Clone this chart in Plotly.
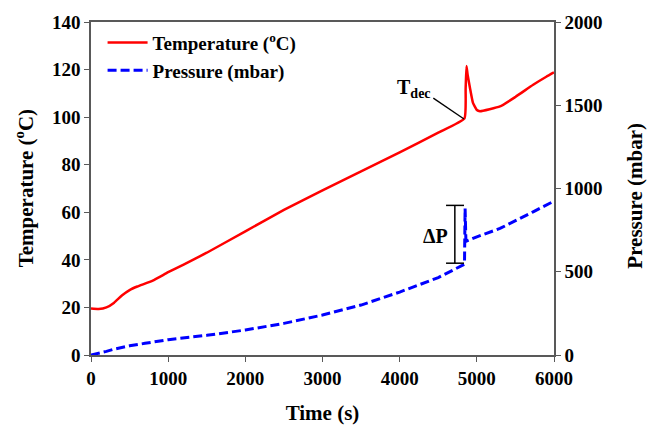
import plotly.graph_objects as go

# Temperature (°C) vs time (s)
temp_t = [0, 100, 200, 300, 400, 500, 600, 800, 1000, 1200, 1500, 2000, 2500, 3000, 3500,
          4000, 4500, 4840, 4855, 4866, 4880, 4910, 4950, 5000, 5040, 5300, 5500, 5730, 5900, 6000]
temp_v = [19.5, 19.3, 20.0, 22.0, 25.0, 27.3, 28.8, 31.3, 34.8, 38.0, 43.0, 52.0, 61.0, 69.2, 77.2,
          85.2, 93.5, 99.5, 112.0, 121.5, 118.0, 112.5, 106.0, 103.0, 102.5, 104.5, 108.5, 113.6, 117.0, 118.8]

# Pressure (mbar) vs time (s)
pres_t = [0, 100, 200, 300, 400, 500, 700, 1000, 1500, 2000, 2500, 3000, 3500, 4000, 4500,
          4840, 4848, 4858, 4870, 5000, 5300, 5500, 5730, 6000]
pres_v = [0, 10, 22, 35, 45, 55, 70, 92, 118, 150, 190, 240, 300, 378, 465,
          545, 880, 690, 685, 710, 760, 805, 860, 924]

x_ticks = [0, 1000, 2000, 3000, 4000, 5000, 6000]
t_ticks = [0, 20, 40, 60, 80, 100, 120, 140]
p_ticks = [0, 500, 1000, 1500, 2000]

FONT = "Liberation Serif"
AX = "#595959"

def bold(vals):
    return ["<b>%d</b>" % v for v in vals]

fig = go.Figure()
fig.add_trace(go.Scatter(x=temp_t, y=temp_v, mode="lines", name="<b>Temperature (<sup>o</sup>C)</b>",
                         line=dict(color="#ff0000", width=2.5, shape="spline", smoothing=0.4)))
fig.add_trace(go.Scatter(x=pres_t, y=pres_v, mode="lines", name="<b>Pressure (mbar)</b>", yaxis="y2",
                         line=dict(color="#0000ff", width=3, dash="9px,4px")))

tickfont = dict(family=FONT, size=19, color="black")
fig.update_layout(
    width=650, height=433,
    margin=dict(l=91, r=96, t=21, b=77),
    paper_bgcolor="white", plot_bgcolor="white",
    font=dict(family=FONT, color="black"),
    xaxis=dict(range=[0, 6000], tickvals=x_ticks, ticktext=bold(x_ticks), ticks="outside", ticklen=5,
               tickcolor=AX, showline=True, linecolor=AX, linewidth=1.5, mirror=True, showgrid=False,
               zeroline=False, tickfont=tickfont,
               title=dict(text="<b>Time (s)</b>", font=dict(family=FONT, size=21), standoff=18)),
    yaxis=dict(range=[0, 140], tickvals=t_ticks, ticktext=bold(t_ticks), ticks="outside", ticklen=5,
               tickcolor=AX, showline=True, linecolor=AX, linewidth=1.5, showgrid=False, zeroline=False,
               tickfont=tickfont),
    yaxis2=dict(range=[0, 2000], tickvals=p_ticks, ticktext=bold(p_ticks), ticks="outside", ticklen=5,
                tickcolor=AX, showline=True, linecolor=AX, linewidth=1.5, showgrid=False, zeroline=False,
                overlaying="y", side="right", tickfont=tickfont),
    legend=dict(x=0.025, y=0.995, xanchor="left", yanchor="top", bgcolor="rgba(0,0,0,0)",
                font=dict(family=FONT, size=19), tracegroupgap=0, itemwidth=40),
    showlegend=True,
)

# Y-axis titles as annotations for precise placement
fig.add_annotation(text="<b>Temperature (<sup>o</sup>C)</b>", xref="paper", yref="paper", x=-0.143, y=0.5,
                   textangle=-90, showarrow=False, xanchor="center", yanchor="middle",
                   font=dict(family=FONT, size=21))
fig.add_annotation(text="<b>Pressure (mbar)</b>", xref="paper", yref="paper", x=1.176, y=0.48,
                   textangle=-90, showarrow=False, xanchor="center", yanchor="middle",
                   font=dict(family=FONT, size=21))

# T_dec label and leader line
fig.add_shape(type="line", x0=4436, y0=108.0, x1=4834, y1=99.2, xref="x", yref="y",
              line=dict(color="black", width=1.3))
fig.add_annotation(text="<b>T<sub>dec</sub></b>", x=4430, y=112.0, xref="x", yref="y", showarrow=False,
                   xanchor="right", yanchor="middle", font=dict(family=FONT, size=20))

# Delta P bracket
for (x0, y0, x1, y1) in [(4715, 38.6, 4715, 62.9), (4601, 38.6, 4834, 38.6), (4601, 62.9, 4834, 62.9)]:
    fig.add_shape(type="line", x0=x0, y0=y0, x1=x1, y1=y1, xref="x", yref="y",
                  line=dict(color="black", width=1.5))
fig.add_annotation(text="<b>ΔP</b>", x=4470, y=50.0, xref="x", yref="y", showarrow=False,
                   xanchor="center", yanchor="middle", font=dict(family=FONT, size=20))

fig.write_html("out.html")
